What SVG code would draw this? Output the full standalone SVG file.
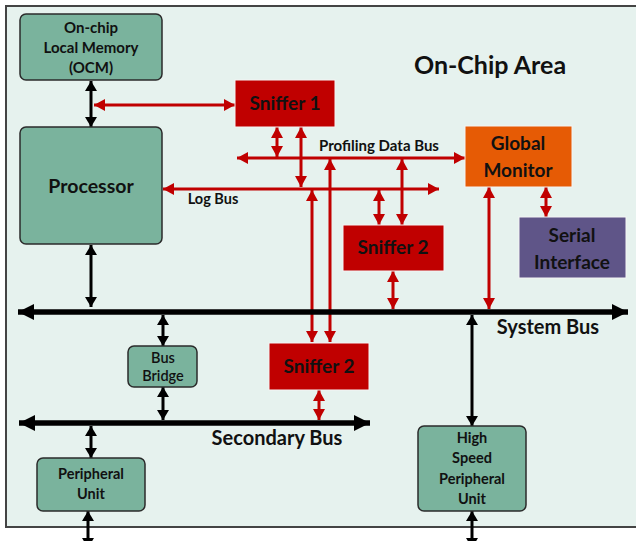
<svg xmlns="http://www.w3.org/2000/svg" width="636" height="541" viewBox="0 0 636 541">
  <defs>
    <style>
      text { font-family: Lato, "Liberation Sans", sans-serif; font-weight: bold; fill: #111; text-anchor: middle; }
      .green { fill: #7AB39D; stroke: #2b2b2b; stroke-width: 1.5; }
      .red { fill: #C00000; stroke: #f4f4f4; stroke-width: 1; }
      .orange { fill: #E65B05; stroke: #f4f4f4; stroke-width: 1; }
      .purple { fill: #5F5588; stroke: #f4f4f4; stroke-width: 1; }
      .blk { stroke: #000; stroke-width: 3; fill: none; marker-start: url(#bh); marker-end: url(#bh); }
      .rd { stroke: #C00000; stroke-width: 3; fill: none; marker-start: url(#rh); marker-end: url(#rh); }
      .bus { stroke: #000; stroke-width: 5.5; fill: none; marker-start: url(#bush); marker-end: url(#bush); }
      .t13 { font-size: 14.5px; }
      .t18 { font-size: 19px; }
      .t20 { font-size: 20px; }
    </style>
    <marker id="bh" viewBox="0 0 10 12" refX="10" refY="6" markerWidth="10" markerHeight="12" markerUnits="userSpaceOnUse" orient="auto-start-reverse">
      <path d="M0,0 L10,6 L0,12 Z" fill="#000"/>
    </marker>
    <marker id="rh" viewBox="0 0 11 12" refX="11" refY="6" markerWidth="11" markerHeight="12" markerUnits="userSpaceOnUse" orient="auto-start-reverse">
      <path d="M0,0 L11,6 L0,12 Z" fill="#C00000"/>
    </marker>
    <marker id="bush" viewBox="0 0 16 16" refX="16" refY="8" markerWidth="16" markerHeight="16" markerUnits="userSpaceOnUse" orient="auto-start-reverse">
      <path d="M0,0 L16,8 L0,16 Z" fill="#000"/>
    </marker>
  </defs>

  <rect width="636" height="541" fill="#ffffff"/>

  <!-- chip boundary -->
  <g id="on-chip-area">
    <rect x="6" y="6" width="640" height="521" fill="#E6F2EE" stroke="#444" stroke-width="2"/>
    <text x="490" y="74" style="font-size:25px">On-Chip Area</text>
  </g>

  <!-- connectors -->
  <g id="connectors">
    <!-- processor side (black) -->
    <line class="blk" x1="91" y1="81" x2="91" y2="127"/>
    <line class="blk" x1="91" y1="245" x2="91" y2="307"/>
    <line class="blk" x1="163" y1="315" x2="163" y2="346"/>
    <line class="blk" x1="163" y1="387" x2="163" y2="420"/>
    <line class="blk" x1="91" y1="426" x2="91" y2="458"/>
    <line class="blk" x1="88" y1="511" x2="88" y2="548"/>
    <line class="blk" x1="472" y1="315" x2="472" y2="426"/>
    <line class="blk" x1="472" y1="511" x2="472" y2="548"/>

    <!-- profiling network (red) -->
    <line class="rd" x1="94" y1="105" x2="235" y2="105"/>
    <line class="rd" x1="277" y1="127" x2="277" y2="157"/>
    <line class="rd" x1="301" y1="127" x2="301" y2="187"/>
    <line class="rd" x1="237" y1="158" x2="465" y2="158"/>
    <line class="rd" x1="163" y1="189" x2="439" y2="189"/>
    <line class="rd" x1="312" y1="190" x2="312" y2="342"/>
    <line class="rd" x1="330" y1="159" x2="330" y2="342"/>
    <line class="rd" x1="379" y1="190" x2="379" y2="225"/>
    <line class="rd" x1="402" y1="159" x2="402" y2="225"/>
    <line class="rd" x1="393" y1="271" x2="393" y2="309"/>
    <line class="rd" x1="489" y1="187" x2="489" y2="309"/>
    <line class="rd" x1="546" y1="187" x2="546" y2="217"/>
    <line class="rd" x1="319" y1="390" x2="319" y2="420"/>

    <!-- buses -->
    <line class="bus" x1="18" y1="312" x2="628" y2="312"/>
    <line class="bus" x1="19" y1="423" x2="370" y2="423"/>

    <text x="379" y="151" style="font-size:15px">Profiling Data Bus</text>
    <text x="213" y="204" class="t13">Log Bus</text>
    <text x="548" y="334" class="t20">System Bus</text>
    <text x="277" y="445" class="t20">Secondary Bus</text>
  </g>

  <!-- nodes -->
  <g id="ocm">
    <rect class="green" x="20" y="14" width="142" height="66" rx="6"/>
    <text x="91" y="33" style="font-size:15px">On-chip</text>
    <text x="91" y="53" style="font-size:15px">Local Memory</text>
    <text x="91" y="73" style="font-size:15px">(OCM)</text>
  </g>
  <g id="processor">
    <rect class="green" x="20" y="127" width="142" height="117" rx="6"/>
    <text x="91" y="193" style="font-size:19.5px">Processor</text>
  </g>
  <g id="sniffer-1">
    <rect class="red" x="235" y="80" width="100" height="47"/>
    <text x="285" y="110" class="t18">Sniffer 1</text>
  </g>
  <g id="global-monitor">
    <rect class="orange" x="465" y="126" width="107" height="61"/>
    <text x="518" y="150" class="t18">Global</text>
    <text x="518" y="177" class="t18">Monitor</text>
  </g>
  <g id="serial-interface">
    <rect class="purple" x="519" y="217" width="107" height="61"/>
    <text x="572" y="242" class="t18">Serial</text>
    <text x="572" y="269" class="t18">Interface</text>
  </g>
  <g id="sniffer-2-upper">
    <rect class="red" x="343" y="225" width="101" height="46"/>
    <text x="393" y="254" class="t18">Sniffer 2</text>
  </g>
  <g id="sniffer-2-lower">
    <rect class="red" x="269" y="343" width="100" height="47"/>
    <text x="319" y="373" class="t18">Sniffer 2</text>
  </g>
  <g id="bus-bridge">
    <rect class="green" x="128" y="346" width="69" height="41" rx="6"/>
    <text x="163" y="363" class="t13" style="font-weight:600">Bus</text>
    <text x="163" y="381" class="t13" style="font-weight:600">Bridge</text>
  </g>
  <g id="peripheral-unit">
    <rect class="green" x="37" y="458" width="108" height="53" rx="6"/>
    <text x="91" y="479" class="t13">Peripheral</text>
    <text x="91" y="499" class="t13">Unit</text>
  </g>
  <g id="high-speed-peripheral-unit">
    <rect class="green" x="418" y="426" width="108" height="85" rx="6"/>
    <text x="472" y="443" class="t13">High</text>
    <text x="472" y="463" class="t13">Speed</text>
    <text x="472" y="484" class="t13">Peripheral</text>
    <text x="472" y="504" class="t13">Unit</text>
  </g>
</svg>
